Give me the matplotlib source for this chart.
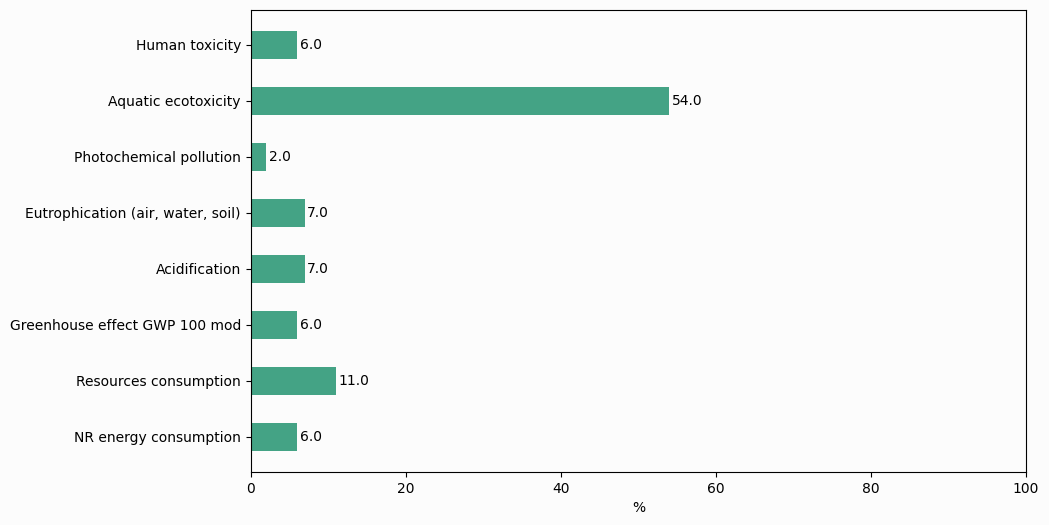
import matplotlib
matplotlib.use("Agg")
import matplotlib.pyplot as plt

# Catégories (de bas en haut)
categories = [
    "NR energy consumption",
    "Resources consumption",
    "Greenhouse effect GWP 100 mod",
    "Acidification",
    "Eutrophication (air, water, soil)",
    "Photochemical pollution",
    "Aquatic ecotoxicity",
    "Human toxicity",
]
values = [6.0, 11.0, 6.0, 7.0, 7.0, 2.0, 54.0, 6.0]

fig = plt.figure(figsize=(10.49, 5.25), dpi=100, facecolor="#fcfcfc")
ax = fig.add_axes([0.239, 0.101, 0.739, 0.880])
ax.set_facecolor("#fcfcfc")

bars = ax.barh(categories, values, height=0.5, color="#44a385")
for bar, v in zip(bars, values):
    ax.text(bar.get_width() + 0.3, bar.get_y() + bar.get_height() / 2,
            f"{v:.1f}", va="center", ha="left", fontsize=10)

ax.set_xlim(0, 100)
ax.set_xlabel("%")

fig.savefig("out.png", dpi=100, facecolor=fig.get_facecolor())
